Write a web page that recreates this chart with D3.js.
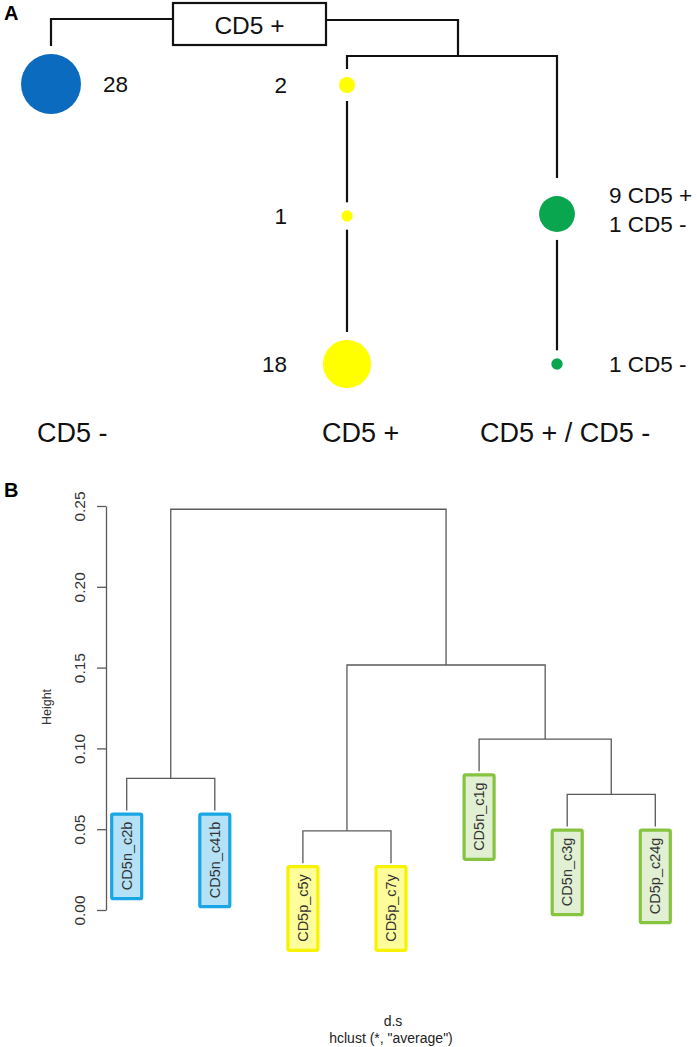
<!DOCTYPE html>
<html><head><meta charset="utf-8">
<script src="https://cdn.jsdelivr.net/npm/d3@7"></script>
<style>
body{margin:0;background:#fff}
svg{display:block}
text{font-family:"Liberation Sans",Arial,Helvetica,sans-serif}
</style>
</head><body>
<svg id="c" width="697" height="1047"></svg>
<script>
// ---------- Panel A data ----------
const groupsA = ["CD5 -", "CD5 +", "CD5 + / CD5 -"];
const groupColors = ["#0a6bbf", "#ffff00", "#0aa64f"];
const levelsA = [0, 1, 2];
const nodeGroup = ["CD5 -", "CD5 +", "CD5 +", "CD5 +", "CD5 + / CD5 -", "CD5 + / CD5 -"];
const nodeLevel = [0, 0, 1, 2, 1, 2];
const nodeCount = [28, 2, 1, 18, 10, 1];
const nodeLabels = [["28"], ["2"], ["1"], ["18"], ["9 CD5 +", "1 CD5 -"], ["1 CD5 -"]];
const nodeLabelSide = ["right", "left", "left", "left", "right", "right"];
const rootLabel = "CD5 +";

// ---------- Panel B data ----------
const leaves = ["CD5n_c2b", "CD5n_c41b", "CD5p_c5y", "CD5p_c7y", "CD5n_c1g", "CD5n_c3g", "CD5p_c24g"];
const leafGroup = [0, 0, 1, 1, 2, 2, 2];
const mergePairs = [[-1, -2], [-3, -4], [-6, -7], [-5, 3], [2, 4], [1, 5]];
const mergeHeights = [0.0815, 0.049, 0.0716, 0.1058, 0.1516, 0.248];
const yTicks = [0, 0.05, 0.10, 0.15, 0.20, 0.25];
const hang = 0.02;
const xTitle = "d.s";
const subTitle = 'hclust (*, "average")';
const yTitle = "Height";

const svg = d3.select("#c");

// ================= Panel A =================
const gA = svg.append("g");
gA.append("text").attr("x", 4).attr("y", 20).attr("font-size", 20).attr("font-weight", "bold").text("A");

const xA = d3.scaleOrdinal().domain(groupsA).range([51, 347, 557]);
const yA = d3.scaleOrdinal().domain(levelsA).range([85, 216, 364]);
const rA = d3.scaleSqrt().domain([0, 28]).range([0, 30]);
const colA = d3.scaleOrdinal().domain(groupsA).range(groupColors);
const labXA = d3.scaleOrdinal().domain(groupsA).range([37, 322, 480]);

const nodes = nodeCount.map((c, i) => ({
  g: nodeGroup[i], lvl: nodeLevel[i], n: c, lab: nodeLabels[i], side: nodeLabelSide[i],
  x: xA(nodeGroup[i]), y: yA(nodeLevel[i]), r: rA(c)
}));
nodes[0].y -= 1;
nodes[4].y -= 2;

const lineA = (pts) => gA.append("path").attr("d", d3.line()(pts))
  .attr("fill", "none").attr("stroke", "#111").attr("stroke-width", 2.2);

const gap = 8;
// root box
const boxL = 173, boxR = 326, boxT = 3, boxB = 45, conY = 19;
gA.append("rect").attr("x", boxL).attr("y", boxT).attr("width", boxR - boxL).attr("height", boxB - boxT)
  .attr("fill", "#fff").attr("stroke", "#111").attr("stroke-width", 2.2);
gA.append("text").attr("x", (boxL + boxR) / 2).attr("y", 34).attr("text-anchor", "middle")
  .attr("font-size", 24.5).attr("fill", "#111").text(rootLabel);

// root -> CD5 - node
const first = g => nodes.find(d => d.g === g);
lineA([[boxL, conY], [nodes[0].x, conY], [nodes[0].x, nodes[0].y - nodes[0].r - gap]]);
// root -> junction
const a = first(groupsA[1]), b = first(groupsA[2]);
const jx = (a.x + b.x) / 2 + 6, jy = 56;
lineA([[boxR, conY + 1], [jx, conY + 1], [jx, jy]]);
lineA([[a.x, a.y - a.r - gap], [a.x, jy], [b.x, jy], [b.x, b.y - b.r - gap - 10]]);
// chains
groupsA.forEach(g => {
  const ch = nodes.filter(d => d.g === g).sort((p, q) => p.lvl - q.lvl);
  for (let i = 1; i < ch.length; i++) {
    lineA([[ch[i - 1].x, ch[i - 1].y + ch[i - 1].r + gap], [ch[i].x, ch[i].y - ch[i].r - gap]]);
  }
});
// circles
gA.selectAll("circle.n").data(nodes).join("circle")
  .attr("cx", d => d.x).attr("cy", d => d.y).attr("r", d => d.r).attr("fill", d => colA(d.g));
// labels
nodes.forEach(d => {
  const t = gA.append("text").attr("font-size", 22.5).attr("fill", "#111")
    .attr("text-anchor", d.side === "left" ? "end" : "start")
    .attr("x", d.side === "left" ? d.x - 60 : d.x + 52);
  const lh = 29;
  const y0 = d.y - (d.lab.length - 1) * lh / 2 - (d.lab.length > 1 ? 5 : 0);
  d.lab.forEach((s, k) => t.append("tspan").attr("x", t.attr("x")).attr("y", y0 + k * lh).attr("dy", "0.36em").text(s));
});
// group labels
gA.selectAll("text.grp").data(groupsA).join("text").attr("class", "grp")
  .attr("x", d => labXA(d)).attr("y", 432).attr("dy", "0.36em").attr("font-size", 27).attr("fill", "#111")
  .text(d => d);

// ================= Panel B =================
const gB = svg.append("g");
gB.append("text").attr("x", 4).attr("y", 497).attr("font-size", 20).attr("font-weight", "bold").text("B");

const xB = d3.scalePoint().domain(leaves).range([126.7, 655.3]);
const yB = d3.scaleLinear().domain([0, 0.25]).range([910, 506]);
const leafStroke = ["#1aa6e4", "#f6f200", "#86c440"];
const leafFill = ["#b4e1f6", "#fdfd9c", "#e1efd3"];
const treeColor = "#5a5a5a";

// axis
const ax = gB.append("g").attr("transform", "translate(106,0)")
  .call(d3.axisLeft(yB).tickValues(yTicks).tickFormat(d3.format(".2f")).tickSize(9).tickSizeOuter(0));
ax.select(".domain").attr("stroke", treeColor).attr("stroke-width", 1.3);
ax.selectAll(".tick line").attr("stroke", treeColor).attr("stroke-width", 1.3);
ax.selectAll(".tick text").attr("x", null).attr("dy", "0.35em").attr("transform", "translate(-26,0) rotate(-90)")
  .attr("text-anchor", "middle").attr("font-size", 15.5).attr("fill", "#333")
  .attr("font-family", '"Liberation Sans",Arial,sans-serif');

gB.append("text").attr("transform", "translate(47,707) rotate(-90)").attr("text-anchor", "middle")
  .attr("dy", "0.35em").attr("font-size", 12.5).attr("fill", "#333").text(yTitle);

// dendrogram
const clusters = [];
const info = (ref, parentH) => {
  if (ref < 0) {
    const name = leaves[-ref - 1];
    return { x: xB(name), h: parentH - hang, leaf: -ref - 1 };
  }
  return { x: clusters[ref - 1].x, h: clusters[ref - 1].h };
};
const leafTips = [];
mergePairs.forEach((p, i) => {
  const h = mergeHeights[i];
  const l = info(p[0], h), r = info(p[1], h);
  clusters.push({ x: (l.x + r.x) / 2, h: h });
  gB.append("path").attr("d", d3.line()([[l.x, yB(l.h)], [l.x, yB(h)], [r.x, yB(h)], [r.x, yB(r.h)]]))
    .attr("fill", "none").attr("stroke", treeColor).attr("stroke-width", 1.3);
  [l, r].forEach(c => { if (c.leaf !== undefined) leafTips[c.leaf] = c; });
});

// leaf label boxes
leaves.forEach((name, i) => {
  const tip = leafTips[i];
  const top = yB(tip.h) + 3.5;
  const g = gB.append("g");
  const rect = g.append("rect");
  const t = g.append("text").attr("transform", `translate(${tip.x},${top + 7.5}) rotate(-90)`)
    .attr("text-anchor", "end").attr("dy", "0.35em").attr("font-size", 14.5).attr("fill", "#333").text(name);
  const L = t.node().getComputedTextLength();
  rect.attr("x", tip.x - 15).attr("y", top).attr("width", 30).attr("height", L + 16).attr("rx", 1.5)
    .attr("fill", leafFill[leafGroup[i]]).attr("stroke", leafStroke[leafGroup[i]]).attr("stroke-width", 3.2);
});

// titles
const cx = (xB.range()[0] + xB.range()[1]) / 2;
gB.append("text").attr("x", cx + 2).attr("y", 1026).attr("text-anchor", "middle").attr("font-size", 14).attr("fill", "#222").text(xTitle);
gB.append("text").attr("x", cx).attr("y", 1043).attr("text-anchor", "middle").attr("font-size", 14).attr("fill", "#222").text(subTitle);
</script>
</body></html>
